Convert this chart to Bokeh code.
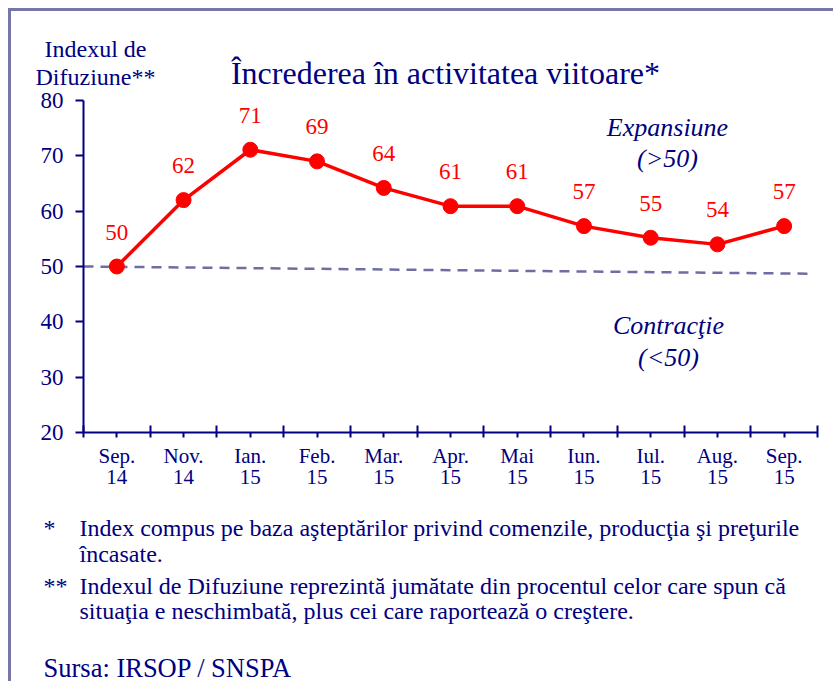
from bokeh.plotting import figure
from bokeh.models import Range1d, FixedTicker, LabelSet, ColumnDataSource
from bokeh.layouts import column
from bokeh.core.properties import value
from bokeh.embed import file_html
from bokeh.resources import INLINE

# ---------------- data ----------------
months = ["Sep.\n14", "Nov.\n14", "Ian.\n15", "Feb.\n15", "Mar.\n15", "Apr.\n15",
          "Mai\n15", "Iun.\n15", "Iul.\n15", "Aug.\n15", "Sep.\n15"]
index_values = [50.0, 62.0, 71.1, 69.0, 64.2, 60.9, 60.9, 57.3, 55.2, 54.0, 57.3]
value_labels = ["50", "62", "71", "69", "64", "61", "61", "57", "55", "54", "57"]
threshold_line = [50.0, 48.7]          # dashed reference line, start / end
y_ticks = [20, 30, 40, 50, 60, 70, 80]

title_text = "Încrederea în activitatea viitoare*"
ylabel_lines = ["Indexul de", "Difuziune**"]
zone_labels = ["Expansiune", "(>50)", "Contracţie", "(<50)"]
note_marks = ["*", "**"]
note_lines = [
    ["Index compus pe baza aşteptărilor privind comenzile, producţia şi preţurile",
     "încasate."],
    ["Indexul de Difuziune reprezintă jumătate din procentul celor care spun că",
     "situaţia e neschimbată, plus cei care raportează o creştere."],
]
source_text = "Sursa: IRSOP / SNSPA"

NAVY = "#000080"
RED = "#ff0000"
BORDER = "#7676a8"
FONT = "Liberation Serif"

# ---------------- geometry (page pixels) ----------------
OX, OY = 11, 11            # canvas origin on page (8px margin + 3px border)
W = 822
TOP_H = 78                 # page 11 .. 89
MAIN_H = 403               # page 89 .. 492
BOT_H = 670 - TOP_H - MAIN_H
LEFT, MTOP, FW, FH = 72, 11, 734, 332
n = len(months)


def text_fig(h):
    f = figure(width=W, height=h, output_backend="svg", toolbar_location=None,
               x_range=Range1d(0, W), y_range=Range1d(h, 0),
               x_axis_type=None, y_axis_type=None, min_border=0)
    f.outline_line_color = None
    f.grid.visible = False
    return f


def put(f, txt, x, y, size, align="left", style="normal", color=NAVY):
    f.text(x=[x], y=[y], text=[txt], text_font=value(FONT), text_font_size=size,
           text_color=color, text_align=align, text_baseline="alphabetic",
           text_font_style=style)


# ---- top area: y label + title
top = text_fig(TOP_H)
put(top, title_text, 445 - OX, 72 - OY, "32px", align="center")
put(top, ylabel_lines[0], 95 - OX, 48 - OY, "24px", align="center")
put(top, ylabel_lines[1], 95 - OX, 76 - OY, "24px", align="center")

# ---- main chart
p = figure(width=W, height=MAIN_H, output_backend="svg", toolbar_location=None,
           x_range=Range1d(0, n), y_range=Range1d(y_ticks[0], y_ticks[-1]),
           min_border_left=LEFT, min_border_top=MTOP,
           min_border_right=W - LEFT - FW, min_border_bottom=MAIN_H - MTOP - FH)
p.outline_line_color = None
p.grid.visible = False

ya = p.yaxis[0]
ya.ticker = FixedTicker(ticks=y_ticks)
ya.axis_line_color = NAVY
ya.axis_line_width = 2
ya.major_tick_line_color = NAVY
ya.major_tick_line_width = 2
ya.major_tick_out = 8
ya.major_tick_in = 0
ya.minor_tick_line_color = None
ya.major_label_text_font = FONT
ya.major_label_text_font_size = "23px"
ya.major_label_text_color = NAVY
ya.major_label_standoff = 12

xa = p.xaxis[0]
centers = [i + 0.5 for i in range(n)]
xa.ticker = FixedTicker(ticks=centers, minor_ticks=list(range(n + 1)))
xa.major_label_overrides = {c: m for c, m in zip(centers, months)}
xa.axis_line_color = NAVY
xa.axis_line_width = 2
xa.major_tick_line_color = NAVY
xa.major_tick_line_width = 2
xa.major_tick_in = 0
xa.major_tick_out = 5
xa.minor_tick_line_color = NAVY
xa.minor_tick_line_width = 2
xa.minor_tick_in = 7
xa.minor_tick_out = 5
xa.major_label_text_font = FONT
xa.major_label_text_font_size = "21px"
xa.major_label_text_color = NAVY
xa.major_label_text_line_height = 0.88
xa.major_label_standoff = 6

x_end = n * (807 - 83) / FW
p.segment(x0=[0], y0=[threshold_line[0]], x1=[x_end], y1=[threshold_line[1]],
          line_color="#6e6ea2", line_width=2.5, line_dash="10 7")

src = ColumnDataSource(dict(x=centers, y=index_values, lab=value_labels))
p.line("x", "y", source=src, line_color=RED, line_width=3.5)
p.scatter("x", "y", source=src, size=15, fill_color=RED, line_color=RED)
p.add_layout(LabelSet(x="x", y="y", text="lab", source=src, y_offset=27,
                      text_align="center", text_baseline="alphabetic",
                      text_font=FONT, text_font_size="23px", text_color=RED))


def data_x(px):
    return (px - 83) / FW * n


def data_y(py):
    return 80 - (py - 100) / FH * 60


zone_pos = [(667, 127), (667, 158), (668, 325), (668, 357)]
for txt, (px, py) in zip(zone_labels, zone_pos):
    put(p, txt, data_x(px), data_y(py), "26px", align="center", style="italic")

# ---- bottom area: notes + source
BY = OY + TOP_H + MAIN_H
bot = text_fig(BOT_H)
note_baselines = [(527, 553), (585, 610)]
for mark, lines, (b1, b2) in zip(note_marks, note_lines, note_baselines):
    put(bot, mark, 43 - OX, b1 - BY, "24px")
    put(bot, lines[0], 79 - OX, b1 - BY, "24px")
    put(bot, lines[1], 79 - OX, b2 - BY, "24px")
put(bot, source_text, 43 - OX, 667 - BY, "26.5px")

layout = column(top, column(p), bot, spacing=0)
layout.styles = {"margin-left": "8px", "margin-top": "8px",
                 "border-left": f"3px solid {BORDER}",
                 "border-top": f"3px solid {BORDER}"}

open("out.html", "w").write(file_html(layout, INLINE))
